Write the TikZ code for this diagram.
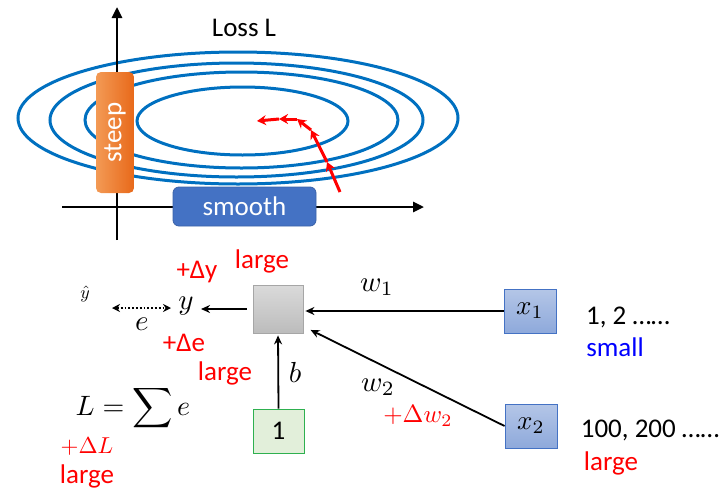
\documentclass[tikz,border=0pt]{standalone}
\usepackage{graphicx}
\usepackage{amsmath}
\usepackage[no-math]{fontspec}
\setmainfont{Carlito}
\usetikzlibrary{arrows.meta,calc}
\definecolor{contour}{HTML}{0070C0}
\definecolor{steepL}{HTML}{F39A55}
\definecolor{steepR}{HTML}{E8691A}
\definecolor{smoothc}{HTML}{4472C4}
\definecolor{smoothb}{HTML}{3A62A8}
\definecolor{grayT}{HTML}{DADADA}
\definecolor{grayB}{HTML}{BCBCBC}
\definecolor{grayE}{HTML}{A6A6A6}
\definecolor{xT}{HTML}{B4C6E7}
\definecolor{xB}{HTML}{8EA9DB}
\definecolor{xE}{HTML}{4472C4}
\definecolor{oneF}{HTML}{E2EFDA}
\definecolor{oneE}{HTML}{2EB04F}
\newcommand\txtbig{\fontsize{27}{30}\selectfont}
\newcommand\mbig[1]{\scalebox{2.9}{$#1$}}
\tikzset{
  contourline/.style={draw=contour, line width=3pt},
  axisline/.style={draw=black, line width=2.6pt, -{Triangle[length=11pt,width=10pt]}},
  steepbox/.style={rounded corners=5pt, draw=none, left color=steepL, right color=steepR, minimum width=38pt, minimum height=121pt, inner sep=0pt},
  smoothbox/.style={rounded corners=6pt, draw=smoothb, line width=0.8pt, fill=smoothc, minimum width=143pt, minimum height=39pt, text=white, font=\txtbig, inner sep=0pt},
  lbl/.style={font=\txtbig, inner sep=1pt},
  redlbl/.style={font=\txtbig, text=red, inner sep=1pt},
  mlbl/.style={inner sep=1pt},
  redpath/.style={draw=red, line width=3pt, -{Stealth[length=9pt,width=10pt]}},
  graybox/.style={draw=grayE, line width=0.8pt, top color=grayT, bottom color=grayB, minimum width=50pt, minimum height=48pt, inner sep=0pt},
  xbox/.style={draw=xE, line width=0.9pt, top color=xT, bottom color=xB, minimum width=52pt, minimum height=44pt, inner sep=0pt},
  onebox/.style={draw=oneE, line width=1pt, fill=oneF, minimum width=51pt, minimum height=44pt, inner sep=0pt, font=\txtbig},
  conn/.style={draw=black, line width=1.8pt, -{Stealth[length=9pt,width=8pt]}},
  dotconn/.style={draw=black, line width=1.8pt, dotted, {Stealth[length=8pt,width=8pt]}-{Stealth[length=8pt,width=8pt]}},
}
\begin{document}
\begin{tikzpicture}[x=1pt,y=-1pt]
\useasboundingbox (0,0) rectangle (726,499);
% contours
\draw[contourline] (238,118) ellipse [x radius=220, y radius=66];
\draw[contourline] (236.5,120) ellipse [x radius=186.5, y radius=57];
\draw[contourline] (241.5,120) ellipse [x radius=156.5, y radius=48];
\draw[contourline] (242.5,121) ellipse [x radius=105.5, y radius=34];
% axes
\coordinate (yaxisB) at (117,240);
\coordinate (yaxisT) at (117,7);
\coordinate (xaxisL) at (62,207);
\coordinate (xaxisR) at (424,207);
\draw[axisline] (yaxisB) -- (yaxisT);
\draw[axisline] (xaxisL) -- (xaxisR);
% boxes
\node[steepbox] (steep) at (115,132.5) {};
\node[rotate=90, text=white, font=\txtbig, inner sep=0pt] (steeptxt) at (steep.center) {steep};
\node[smoothbox] (smooth) at (244.5,206.5) {smooth};
\node[lbl] (loss) at (244,28) {Loss L};
% red path
\coordinate (p0) at (340,192);
\coordinate (p1) at (327,162);
\coordinate (p2) at (311,130);
\coordinate (p3) at (297,119);
\coordinate (p4) at (279,119);
\coordinate (p5) at (257,121);
\draw[redpath] (p0) -- (p1);
\draw[redpath] (p1) -- (p2);
\draw[redpath] (p2) -- (p3);
\draw[redpath] (p3) -- (p4);
\draw[redpath] (p4) -- (p5);
% network
\node[graybox] (g) at (278,309) {};
\node[onebox] (one) at (278.5,431) {1};
\node[xbox] (x1) at (530,311) {\scalebox{2.7}{$x_1$}};
\node[xbox] (x2) at (531,426) {\scalebox{2.7}{$x_2$}};
\node[mlbl] (yn) at (186,306) {\mbig{y}};
\node[mlbl] (yhat) at (85,294) {\scalebox{1.8}{$\hat{y}$}};
\coordinate (de1) at (112,308);
\coordinate (de2) at (171,308);
\draw[dotconn] (de1) -- (de2);
\node[mlbl] (en) at (142,324) {\mbig{e}};
\draw[conn, shorten <=6pt] (g.west) -- (201,309) coordinate (yarrow);
\draw[conn, shorten >=2pt] (x1.west) -- (g.east |- x1.west);
\coordinate (gin2) at ($(g.south east)+(0,-7)$);
\draw[conn, shorten >=8pt] (x2.west) -- (gin2);
\draw[conn, shorten >=2pt] (one.north) -- (g.south);
\node[mlbl] (bl) at (295,372) {\mbig{b}};
\node[mlbl] (w1) at (377,287) {\mbig{w_1}};
\node[mlbl] (w2) at (378,387) {\mbig{w_2}};
\node[mlbl, text=red] (dw2) at (418,416) {\scalebox{2.5}{$+\Delta w_2$}};
\node[redlbl] (dy) at (197,272) {+Δy};
\node[redlbl] (large1) at (262,261) {large};
\node[redlbl] (de) at (184,343) {+Δe};
\node[redlbl] (large2) at (225,373) {large};
\node[mlbl] (Lsum) at (133,408) {\scalebox{2.8}{$\displaystyle L=\sum e$}};
\node[mlbl, text=red] (dL) at (87,447) {\scalebox{2.3}{$+\Delta L$}};
\node[redlbl] (large3) at (87,476) {large};
\node[lbl] (v1) at (628,317) {1, 2 ……};
\node[font=\txtbig, text=blue, inner sep=1pt] (small) at (615,347) {small};
\node[lbl] (v2) at (650,430) {100, 200 ……};
\node[redlbl] (large4) at (611,463) {large};
\end{tikzpicture}
\end{document}
